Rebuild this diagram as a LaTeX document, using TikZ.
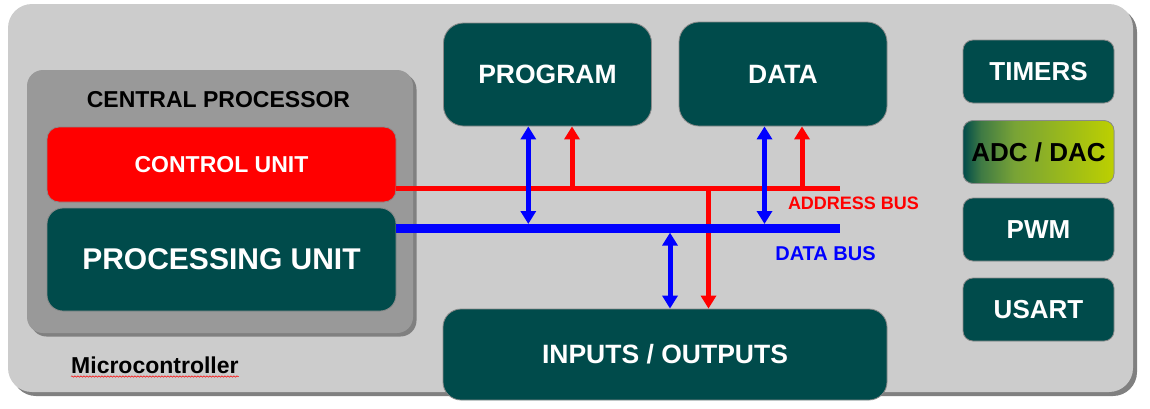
\documentclass[tikz,border=0pt]{standalone}
\usepackage{fontspec}
\setmainfont{Liberation Sans}
\usetikzlibrary{arrows.meta,shadows,decorations.pathmorphing}
\definecolor{tealbox}{HTML}{004B4B}
\definecolor{mcgray}{HTML}{CCCCCC}
\definecolor{cpgray}{HTML}{999999}
\definecolor{shadowc}{HTML}{808080}
\definecolor{edgec}{HTML}{8A8A8A}
\definecolor{adcA}{HTML}{3F7A44}
\definecolor{adcB}{HTML}{78A336}
\definecolor{adcC}{HTML}{BDD000}
\definecolor{busred}{HTML}{FF0000}
\definecolor{busblue}{HTML}{0000FF}
\pgfdeclarehorizontalshading{adcsh}{100bp}{color(0bp)=(tealbox); color(25bp)=(tealbox); color(31bp)=(adcA); color(42bp)=(adcB); color(75bp)=(adcC); color(100bp)=(adcC)}
\begin{document}
\begin{tikzpicture}[x=1pt,y=-1pt,
  mcbox/.style={rectangle, fill=mcgray, rounded corners=24pt, inner sep=0pt,
    minimum width=1125pt, minimum height=388pt,
    general shadow={shadow xshift=4pt, shadow yshift=-4pt, fill=shadowc}},
  cpbox/.style={rectangle, fill=cpgray, rounded corners=16pt, inner sep=0pt,
    minimum width=386pt, minimum height=263pt,
    general shadow={shadow xshift=3.5pt, shadow yshift=-3.5pt, fill=shadowc}},
  tbox/.style={rectangle, fill=tealbox, draw=edgec, line width=0.8pt,
    rounded corners=18pt, inner sep=0pt, text=white,
    font=\bfseries\fontsize{26.5}{30}\selectfont},
  sidebox/.style={tbox, minimum width=151pt, minimum height=63pt,
    rounded corners=10pt, font=\bfseries\fontsize{26}{30}\selectfont},
  redarrow/.style={draw=busred, line width=5pt,
    -{Triangle[length=13pt,width=15pt]}},
  bluedbl/.style={draw=busblue, line width=5pt,
    {Triangle[length=13pt,width=15pt]}-{Triangle[length=13pt,width=15pt]}},
  buslabel/.style={font=\bfseries\fontsize{#1}{22}\selectfont, inner sep=0pt}
]
\useasboundingbox (0,0) rectangle (1150,408);

% outer microcontroller frame
\node[mcbox] (mc) at (570.5,198) {};
\node[font=\bfseries\fontsize{23}{26}\selectfont, anchor=base west, inner sep=0pt]
  (mclabel) at (71,373) {Microcontroller};
\draw[busred, line width=0.5pt,
  decorate, decoration={snake, amplitude=0.7pt, segment length=3pt}]
  ([yshift=-3.5pt]mclabel.base west) -- ([yshift=-3.5pt]mclabel.base east);

% central processor
\node[cpbox] (cp) at (220,201.5) {};
\node[font=\bfseries\fontsize{23}{26}\selectfont, inner sep=0pt]
  (cptitle) at (218.5,99.5) {CENTRAL PROCESSOR};
\node[tbox, fill=busred, minimum width=349pt, minimum height=75pt,
  rounded corners=12pt, font=\bfseries\fontsize{23}{26}\selectfont]
  (cu) at (221.5,164.5) {CONTROL UNIT};
\node[tbox, minimum width=349pt, minimum height=103pt, rounded corners=16pt,
  font=\bfseries\fontsize{30}{34}\selectfont]
  (pu) at (221.5,259.5) {PROCESSING UNIT};

% memories and I/O
\node[tbox, minimum width=208pt, minimum height=103pt, rounded corners=20pt]
  (prog) at (547.5,74.5) {PROGRAM};
\node[tbox, minimum width=208pt, minimum height=104pt, rounded corners=20pt]
  (data) at (783,74) {DATA};
\node[tbox, minimum width=444pt, minimum height=91pt]
  (io) at (665,354.5) {INPUTS / OUTPUTS};

% peripherals
\node[sidebox] (tim) at (1038.5,71.5) {TIMERS};
\node[sidebox, shading=adcsh, text=black] (adc) at (1038.5,152) {ADC / DAC};
\node[sidebox] (pwm) at (1038.5,229.5) {PWM};
\node[sidebox] (usart) at (1038.5,309.5) {USART};

% address bus
\coordinate (abE) at (840,188.3);
\draw[busred, line width=4.7pt] (cu.east |- abE) -- (abE);
\coordinate (pa) at (572,188.3);
\coordinate (da) at (802,188.3);
\coordinate (ioa) at (708.5,188.3);
\draw[redarrow] (pa) -- (pa |- prog.south);
\draw[redarrow] (da) -- (da |- data.south);
\draw[redarrow] (ioa) -- (ioa |- io.north);

% data bus
\coordinate (dbE) at (840,228.3);
\draw[busblue, line width=8.7pt] (pu.east |- dbE) -- (dbE);
\coordinate (pb) at (528.3,224);
\coordinate (db) at (764.5,224);
\coordinate (iob) at (670,232.6);
\draw[bluedbl] (prog.south -| pb) -- (pb);
\draw[bluedbl] (data.south -| db) -- (db);
\draw[bluedbl] (iob) -- (iob |- io.north);

% bus labels
\node[buslabel=18, text=busred] (ablabel) at (853.5,203.5) {ADDRESS BUS};
\node[buslabel=20, text=busblue] (dblabel) at (825.5,254) {DATA BUS};
\end{tikzpicture}
\end{document}
